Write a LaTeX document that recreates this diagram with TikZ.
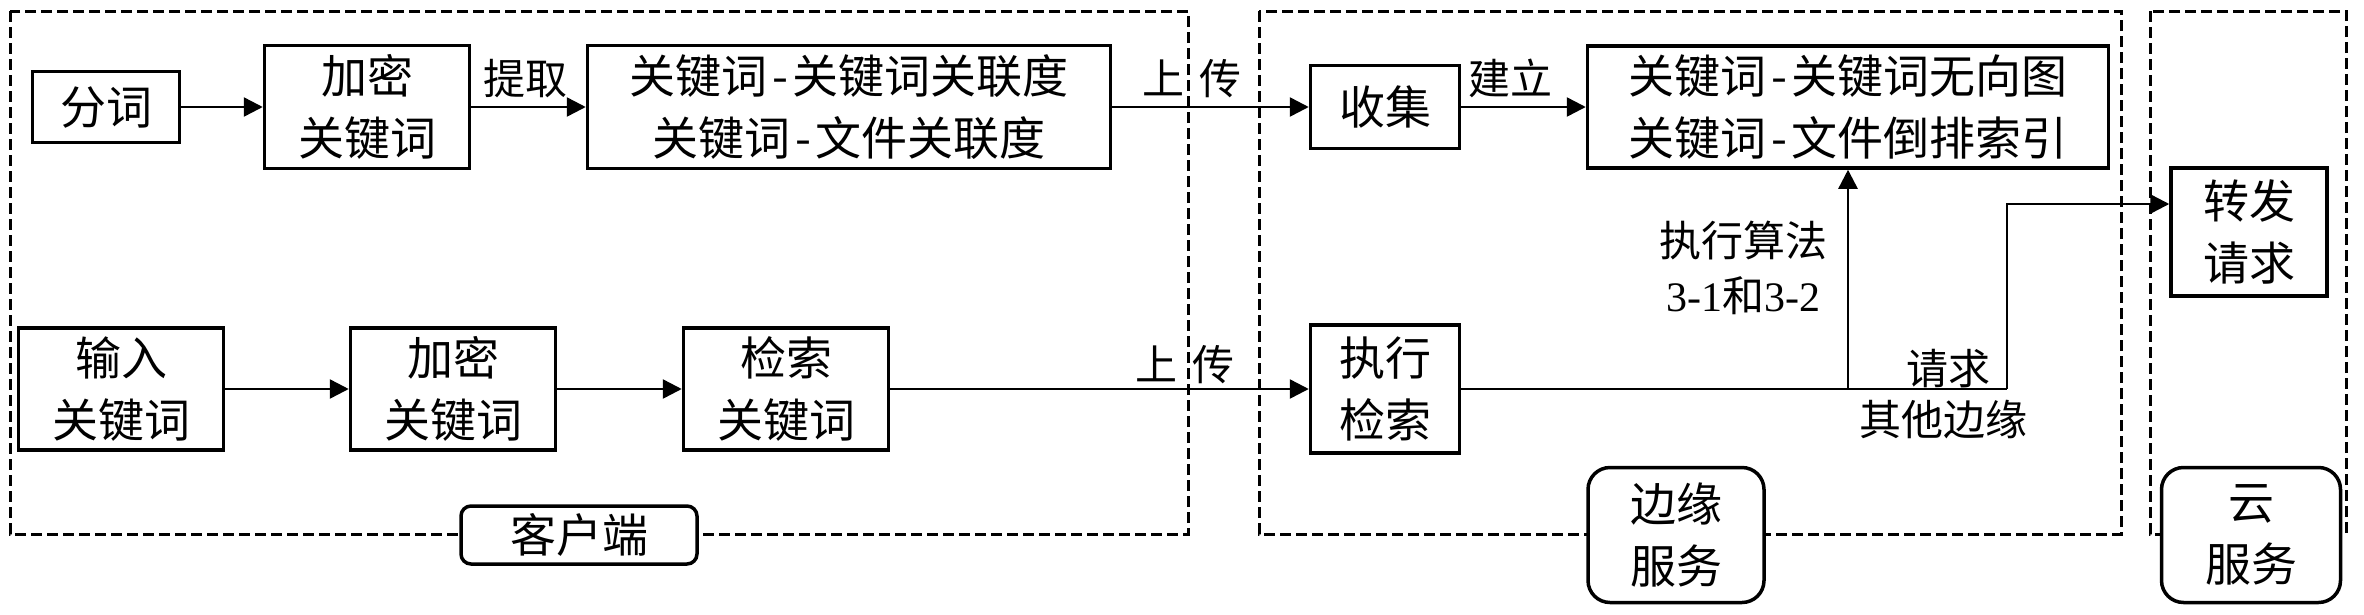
\documentclass[tikz,border=0pt]{standalone}
\usepackage{fontspec}
\setmainfont{Noto Sans CJK SC}
\newfontfamily\tnr{Liberation Serif}
\usetikzlibrary{arrows.meta}
\newcommand\boxfont{\fontsize{46}{62}\selectfont}
\newcommand\lblfont{\fontsize{42}{56}\selectfont}
\newcommand\hy{\kern0.1em-\kern0.1em}
\tikzset{
  box/.style={draw, line width=3.5pt, inner sep=0pt, align=center, font=\boxfont},
  lbl/.style={inner sep=0pt, align=center, font=\lblfont},
  arr/.style={line width=2.5pt, -{Triangle[length=19pt,width=19pt]}},
  conn/.style={line width=2.5pt},
  grp/.style={draw, line width=3pt, dash pattern=on 11pt off 5pt},
  tag/.style={draw, fill=white, line width=3.5pt, inner sep=0pt, align=center, font=\boxfont},
}
\begin{document}
\begin{tikzpicture}[x=1pt,y=-1pt]
\useasboundingbox (0,0) rectangle (2364,614);
% group frames
\draw[grp] (10,11) rectangle (1188,534);
\draw[grp] (1259,11) rectangle (2121,534);
\draw[grp] (2150,11) rectangle (2346,534);
% top row
\node[box, minimum width=147, minimum height=71] (fc) at (106,107) {分词};
\node[box, minimum width=205, minimum height=123] (jm1) at (367,107) {加密\\关键词};
\node[box, minimum width=523, minimum height=123] (gld) at (849,107) {关键词\hy 关键词关联度\\关键词\hy 文件关联度};
\node[box, minimum width=149, minimum height=83] (sj) at (1385,107) {收集};
\node[box, minimum width=521, minimum height=122] (idx) at (1848,107) {关键词\hy 关键词无向图\\关键词\hy 文件倒排索引};
% bottom row
\node[box, minimum width=205, minimum height=122] (sr) at (121,389) {输入\\关键词};
\node[box, minimum width=205, minimum height=122] (jm2) at (453,389) {加密\\关键词};
\node[box, minimum width=205, minimum height=122] (js) at (786,389) {检索\\关键词};
\node[box, minimum width=149, minimum height=128] (zx) at (1385,389) {执行\\检索};
\node[box, minimum width=156, minimum height=128] (zf) at (2249,232) {转发\\请求};
% group tags
\node[tag, minimum width=236, minimum height=58, rounded corners=10pt] (kh) at (579,535) {客户端};
\node[tag, minimum width=176, minimum height=135, rounded corners=22pt] (by) at (1676,535) {边缘\\服务};
\node[tag, minimum width=179, minimum height=135, rounded corners=22pt] (yun) at (2251,535) {云\\服务};
% connectors
\draw[arr] (fc) -- (jm1);
\draw[arr] (jm1) -- (gld);
\draw[arr] (gld) -- (sj);
\draw[arr] (sj) -- (idx);
\draw[arr] (sr) -- (jm2);
\draw[arr] (jm2) -- (js);
\draw[arr] (js) -- (zx);
\coordinate (j1) at (idx.south |- zx.east);
\coordinate (b1) at (2007,389);
\coordinate (b2) at (2007,204);
\draw[conn] (zx.east) -- (b1);
\draw[arr] (j1) -- (idx.south);
\draw[arr] (b1) -- (b2) -- (b2 -| zf.west);
% labels
\node[lbl, anchor=base] (tq) at (525,94) {提取};
\node[lbl, anchor=base] (sc1) at (1192,94) {上\hspace{0.35em}传};
\node[lbl, anchor=base] (jl) at (1510,94) {建立};
\node[lbl, anchor=base] (sc2) at (1185,380) {上\hspace{0.35em}传};
\node[lbl, font=\fontsize{42}{55}\selectfont] (sf) at (1743,268) {执行算法\\{\tnr 3-1}和{\tnr 3-2}};
\node[lbl, anchor=base] (qq) at (1948,384) {请求};
\node[lbl, anchor=base] (qt) at (1943,435) {其他边缘};
\end{tikzpicture}
\end{document}
